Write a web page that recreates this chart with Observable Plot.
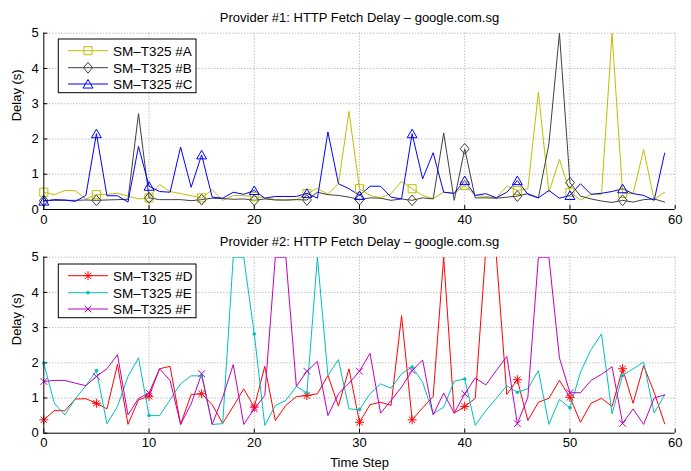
<!DOCTYPE html>
<html><head>
<meta charset="utf-8">
<script src="https://cdn.jsdelivr.net/npm/d3@7"></script>
<script src="https://cdn.jsdelivr.net/npm/@observablehq/plot@0.6"></script>
<style>
body{margin:0;background:#fff;}
#chart{width:691px;}
#chart svg{display:block;overflow:visible;}
</style>
</head><body><div id="chart"></div>
<script>
const steps = d3.range(60);
const xTicks = [0, 10, 20, 30, 40, 50, 60];
const yTicks = [0, 1, 2, 3, 4, 5];
const titles = ["Provider #1: HTTP Fetch Delay \u2013 google.com.sg", "Provider #2: HTTP Fetch Delay \u2013 google.com.sg"];
const names1 = ["SM\u2013T325 #A", "SM\u2013T325 #B", "SM\u2013T325 #C"];
const names2 = ["SM\u2013T325 #D", "SM\u2013T325 #E", "SM\u2013T325 #F"];

const seriesA = [0.49,0.42,0.54,0.53,0.30,0.42,0.43,0.46,0.38,0.30, 0.33,0.71,0.51,0.45,0.39,0.33,0.56,0.26,0.40,0.39, 0.37,0.33,0.28,0.26,0.28,0.45,0.60,0.43,0.73,2.78, 0.59,0.40,0.33,0.45,0.80,0.59,0.40,0.31,0.49,0.45, 0.68,0.40,0.37,0.33,0.66,0.54,0.59,3.33,0.49,1.42, 0.49,0.27,0.43,0.43,5.0,0.46,0.45,1.70,0.28,0.49];
const seriesB = [0.25,0.26,0.26,0.26,0.27,0.26,0.27,0.28,0.29,2.72, 0.33,0.28,0.28,0.28,0.25,0.28,0.32,0.31,0.29,0.30, 0.26,0.30,0.27,0.27,0.28,0.27,0.49,0.42,0.40,0.35, 0.28,0.33,0.32,0.26,0.30,0.26,0.33,0.30,2.17,0.26, 1.72,0.33,0.33,0.32,0.35,0.38,0.45,0.33,1.86,5.0, 0.76,0.38,0.30,0.24,0.20,0.26,0.21,0.28,0.30,0.21];
const seriesC = [0.24,0.28,0.27,0.23,0.40,2.15,0.39,0.39,0.21,1.79, 0.66,0.51,0.49,1.77,0.63,1.55,0.35,0.32,0.49,0.43, 0.54,0.32,0.37,0.37,0.37,0.46,0.32,2.20,0.73,0.59, 0.40,0.66,0.66,0.35,0.30,2.15,0.87,1.61,0.49,0.46, 0.82,0.40,0.45,0.33,0.49,0.82,0.43,0.33,0.54,0.32, 0.40,0.73,0.43,0.46,0.51,0.59,0.45,0.40,0.26,1.60];
const seriesD = [0.38,0.64,0.64,0.97,0.98,0.85,0.69,1.95,0.25,0.95, 1.05,1.83,1.90,0.25,1.10,1.12,0.81,0.28,0.76,1.26, 0.74,1.90,0.36,0.79,1.04,1.07,1.12,1.64,0.77,1.83, 0.31,0.81,0.88,0.79,3.34,0.38,0.72,1.04,5.0,0.57, 0.76,0.99,5.2,5.05,1.10,1.52,0.36,0.88,0.99,1.50, 1.02,0.31,0.85,0.99,0.76,1.83,0.85,1.92,1.16,0.27];
const seriesE = [1.99,0.85,0.52,0.98,1.35,1.78,0.27,0.76,1.61,2.14, 0.50,0.50,0.95,1.40,1.63,1.63,0.25,0.27,5.0,5.0, 2.82,0.22,0.79,0.93,1.33,1.14,5.0,1.64,2.09,0.69, 0.67,1.12,1.40,1.28,1.69,1.88,1.45,0.55,0.74,1.48, 1.54,0.22,0.64,0.99,1.35,1.16,1.26,1.78,0.25,0.96, 0.72,1.73,2.37,2.82,0.55,1.64,1.83,2.02,0.57,1.09];
const seriesF = [1.47,1.50,1.50,1.42,1.35,1.61,1.83,2.23,0.52,0.99, 1.14,1.83,1.50,0.25,0.83,1.69,0.25,1.02,1.95,0.25, 0.69,1.07,5.0,5.0,1.33,1.76,2.04,0.50,1.12,1.42, 1.76,2.27,0.57,0.93,1.31,1.78,2.08,0.52,1.14,0.57, 1.12,1.57,1.37,1.78,2.18,0.27,1.02,5.0,5.0,2.14, 1.15,1.15,1.50,1.67,1.89,0.28,0.69,0.25,1.00,1.09];

// custom MATLAB-like marker shapes (sizes derived from r)
const symSquare = {draw(c, size){const s = Math.sqrt(size/Math.PI)*0.9; c.moveTo(-s,-s); c.lineTo(s,-s); c.lineTo(s,s); c.lineTo(-s,s); c.closePath();}};
const symDiamond = {draw(c, size){const r = Math.sqrt(size/Math.PI); const w = r*1.0, h = r*1.2; c.moveTo(0,-h); c.lineTo(w,0); c.lineTo(0,h); c.lineTo(-w,0); c.closePath();}};
const symTriangle = {draw(c, size){const r = Math.sqrt(size/Math.PI); const w = r*1.1, h = r; c.moveTo(0,-h); c.lineTo(w,h*0.9); c.lineTo(-w,h*0.9); c.closePath();}};
const symStar = {draw(c, size){const r = Math.sqrt(size/Math.PI); for (let k = 0; k < 4; k++){const a = k*Math.PI/4; c.moveTo(r*Math.cos(a), r*Math.sin(a)); c.lineTo(-r*Math.cos(a), -r*Math.sin(a));}}};
const symTimes = {draw(c, size){const r = Math.sqrt(size/Math.PI)*0.75; c.moveTo(-r,-r); c.lineTo(r,r); c.moveTo(r,-r); c.lineTo(-r,r);}};
const symPoint = {draw(c, size){const r = 1.3; c.moveTo(r,0); c.arc(0,0,r,0,2*Math.PI);}};

const panel1 = [
  {name: names1[0], values: seriesA, color: "#bfbf00", symbol: symSquare, fill: "none"},
  {name: names1[1], values: seriesB, color: "#404040", symbol: symDiamond, fill: "none"},
  {name: names1[2], values: seriesC, color: "#0000ff", symbol: symTriangle, fill: "none"}
];
const panel2 = [
  {name: names2[0], values: seriesD, color: "#ff0000", symbol: symStar, fill: "none"},
  {name: names2[1], values: seriesE, color: "#00bfbf", symbol: symPoint, fill: "#00bfbf"},
  {name: names2[2], values: seriesF, color: "#bf00bf", symbol: symTimes, fill: "none"}
];

const FONT = "'Liberation Sans', Arial, Helvetica, sans-serif";
const ML = 43.3, MR = 16.3;

function makePanel({series, title, height, marginTop, marginBottom, xLabel, legendTop}) {
  const frameH = height - marginTop - marginBottom;
  const frameW = 691 - ML - MR;
  const marks = [
    Plot.gridY(yTicks.slice(1), {stroke: "#8c8c8c", strokeOpacity: 1, strokeDasharray: "1,2", strokeWidth: 0.8}),
    Plot.gridX(xTicks.slice(1), {stroke: "#8c8c8c", strokeOpacity: 1, strokeDasharray: "1,2", strokeWidth: 0.8}),
    Plot.ruleX(xTicks, {x: d => d, y1: 0, y2: 5 * 4 / frameH, stroke: "#000", strokeWidth: 1}),
    Plot.ruleY(yTicks, {y: d => d, x1: 0, x2: 60 * 4 / frameW, stroke: "#000", strokeWidth: 1}),
    Plot.axisX(xTicks, {tickSize: 0, tickPadding: 5, fontSize: 13, label: null}),
    Plot.axisY(yTicks, {tickSize: 0, tickPadding: 5, fontSize: 13, label: null})
  ];
  for (const s of series) {
    marks.push(Plot.line(s.values, {x: (d, i) => steps[i], y: d => d, stroke: s.color, strokeWidth: 1, clip: true}));
  }
  for (const s of series) {
    marks.push(Plot.dot(s.values, {filter: (d, i) => i % 5 === 0, x: (d, i) => steps[i], y: d => d, symbol: s.symbol, r: 4.5, stroke: s.color, fill: s.fill, strokeWidth: 1}));
  }
  marks.push(Plot.ruleY([0], {stroke: "#000", strokeWidth: 1}));
  marks.push(Plot.ruleX([0], {stroke: "#000", strokeWidth: 1}));
  marks.push(Plot.text([title], {frameAnchor: "top", dy: -15.5, fontSize: 13, lineAnchor: "middle", fill: "#000"}));
  marks.push(Plot.text(["Delay (s)"], {frameAnchor: "left", dx: -26.5, rotate: -90, fontSize: 13, lineAnchor: "middle", fill: "#000"}));
  if (xLabel) marks.push(Plot.text([xLabel], {frameAnchor: "bottom", dy: 30, fontSize: 13, lineAnchor: "middle", fill: "#000"}));

  const plot = Plot.plot({
    width: 691, height, marginTop, marginBottom, marginLeft: ML, marginRight: MR,
    style: {fontFamily: FONT, fontSize: "13px", color: "#000", background: "#fff"},
    x: {domain: [0, 60], label: null},
    y: {domain: [0, 5], label: null},
    marks
  });

  // legend box (MATLAB style, inside top-left)
  const svg = d3.select(plot);
  const g = svg.append("g").attr("text-anchor", "start");
  const bx = 58.3, bw = 137.7, bh = 53.7;
  g.append("rect").attr("x", bx).attr("y", legendTop).attr("width", bw).attr("height", bh)
    .attr("fill", "#fff").attr("stroke", "#000").attr("stroke-width", 1);
  const rowYs = [11.7, 28.7, 45];
  series.forEach((s, k) => {
    const y = legendTop + rowYs[k];
    g.append("line").attr("x1", 68).attr("x2", 108).attr("y1", y).attr("y2", y).attr("stroke", s.color).attr("stroke-width", 1);
    g.append("path").attr("d", d3.symbol(s.symbol, Math.PI * 4.5 * 4.5)())
      .attr("transform", `translate(88,${y})`).attr("stroke", s.color).attr("fill", s.fill).attr("stroke-width", 1);
    g.append("text").attr("x", 113).attr("y", y).attr("dy", "0.36em").attr("font-size", 13.5)
      .attr("text-anchor", "start").attr("font-family", FONT).attr("fill", "#000").text(s.name);
  });
  return plot;
}

const chart = document.getElementById("chart");
chart.appendChild(makePanel({series: panel1, title: titles[0], height: 232, marginTop: 32.7, marginBottom: 23, legendTop: 39}));
chart.appendChild(makePanel({series: panel2, title: titles[1], height: 239, marginTop: 24.7, marginBottom: 38.3, xLabel: "Time Step", legendTop: 32}));
</script>
</body></html>
